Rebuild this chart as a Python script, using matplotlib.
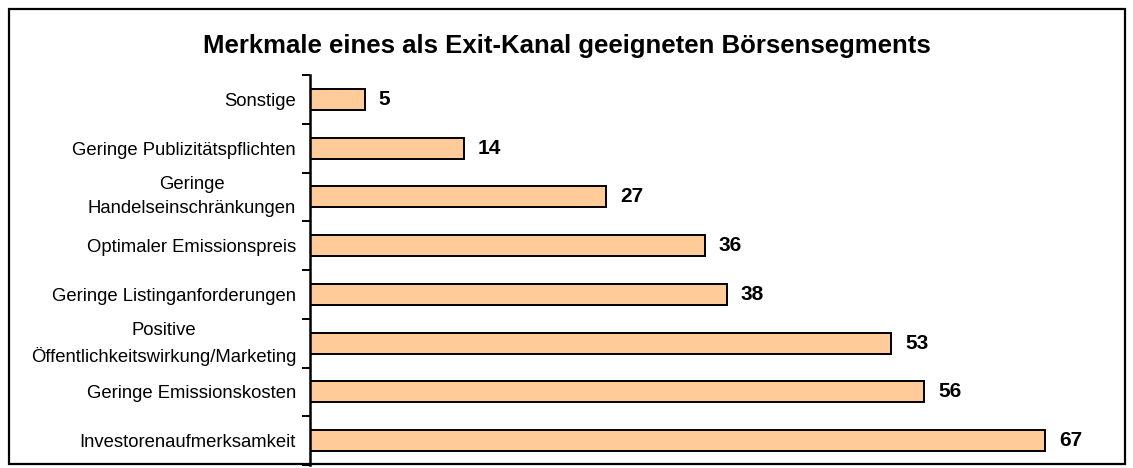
import matplotlib
matplotlib.use("Agg")
import matplotlib.pyplot as plt
from matplotlib.patches import Rectangle
from matplotlib.transforms import ScaledTranslation

plt.rcParams['font.family'] = ['Liberation Sans', 'DejaVu Sans']

# Daten (von oben nach unten)
kategorien = [
    "Sonstige",
    "Geringe Publizitätspflichten",
    "Geringe\nHandelseinschränkungen",
    "Optimaler Emissionspreis",
    "Geringe Listinganforderungen",
    "Positive\nÖffentlichkeitswirkung/Marketing",
    "Geringe Emissionskosten",
    "Investorenaufmerksamkeit",
]
werte = [5, 14, 27, 36, 38, 53, 56, 67]
titel = "Merkmale eines als Exit-Kanal geeigneten Börsensegments"

fig = plt.figure(figsize=(11.33, 4.68), dpi=100)

# Rahmen um das ganze Diagramm
fig.patches.append(Rectangle((0.008, 0.0085), 0.985, 0.9725, transform=fig.transFigure,
                             fill=False, edgecolor='black', linewidth=1.6))

ax = fig.add_axes([0.2736, 0.0064, 0.7194, 0.8333])

pos = list(range(len(kategorien)))
ax.barh(pos, werte, height=0.43, color='#FFCC99', edgecolor='black', linewidth=1.4)

for p, w in zip(pos, werte):
    ax.annotate(str(w), (w, p), xytext=(10, 0), textcoords='offset points',
                va='center', ha='left', fontsize=15, fontweight='bold')

ax.set_xlim(0, 74.3)
ax.set_ylim(len(kategorien) - 0.5, -0.5)

ax.set_yticks(pos)
ax.set_yticklabels(kategorien, fontsize=13.3)
ax.tick_params(axis='y', which='major', length=0, pad=10)
# zweizeilige Beschriftungen etwas weiter und leicht nach oben
for lbl in ax.get_yticklabels():
    lbl.set_multialignment('center')
    if '\n' in lbl.get_text():
        lbl.set_linespacing(1.55)
        lbl.set_transform(lbl.get_transform() + ScaledTranslation(0, 4 / 72, fig.dpi_scale_trans))
ax.set_yticks([i - 0.5 for i in range(len(kategorien) + 1)], minor=True)
ax.tick_params(axis='y', which='minor', length=6, width=1.4, direction='out')
ax.set_xticks([])

for s in ['top', 'right', 'bottom']:
    ax.spines[s].set_visible(False)
ax.spines['left'].set_linewidth(1.8)

fig.text(0.5, 0.902, titel, ha='center', va='center', fontsize=18.5, fontweight='bold')

fig.savefig("out.png", dpi=100)
